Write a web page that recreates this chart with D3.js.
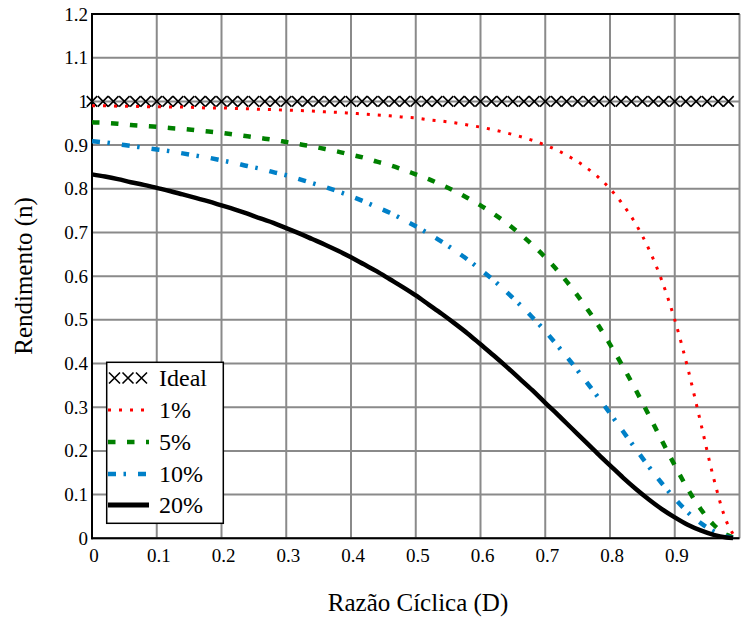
<!DOCTYPE html>
<html>
<head>
<meta charset="utf-8">
<script src="https://cdn.jsdelivr.net/npm/d3@7"></script>
</head>
<body style="margin:0">
<script>
// ---- Data ----
const xTicks = [0, 0.1, 0.2, 0.3, 0.4, 0.5, 0.6, 0.7, 0.8, 0.9];
const xTickLabels = ["0", "0.1", "0.2", "0.3", "0.4", "0.5", "0.6", "0.7", "0.8", "0.9"];
const yTicks = [0, 0.1, 0.2, 0.3, 0.4, 0.5, 0.6, 0.7, 0.8, 0.9, 1.0, 1.1, 1.2];
const yTickLabels = ["0", "0.1", "0.2", "0.3", "0.4", "0.5", "0.6", "0.7", "0.8", "0.9", "1", "1.1", "1.2"];

const D = [0, 0.02, 0.04, 0.06, 0.08, 0.10, 0.12, 0.14, 0.16, 0.18,
           0.20, 0.22, 0.24, 0.26, 0.28, 0.30, 0.32, 0.34, 0.36, 0.38,
           0.40, 0.42, 0.44, 0.46, 0.48, 0.50, 0.52, 0.54, 0.56, 0.58,
           0.60, 0.62, 0.64, 0.66, 0.68, 0.70, 0.72, 0.74, 0.76, 0.78,
           0.80, 0.82, 0.84, 0.86, 0.88, 0.90, 0.92, 0.94, 0.96, 0.98, 0.99];

const eta1 = [0.990, 0.990, 0.989, 0.989, 0.988, 0.988, 0.987, 0.987, 0.986, 0.985,
              0.985, 0.984, 0.983, 0.982, 0.981, 0.980, 0.979, 0.978, 0.976, 0.975,
              0.973, 0.971, 0.969, 0.967, 0.964, 0.962, 0.958, 0.955, 0.951, 0.946,
              0.941, 0.935, 0.928, 0.920, 0.911, 0.900, 0.887, 0.871, 0.852, 0.829,
              0.800, 0.764, 0.719, 0.662, 0.590, 0.500, 0.390, 0.265, 0.138, 0.038, 0.010];

const eta5 = [0.952, 0.951, 0.949, 0.946, 0.944, 0.942, 0.939, 0.937, 0.934, 0.931,
              0.928, 0.924, 0.920, 0.916, 0.912, 0.907, 0.902, 0.897, 0.891, 0.885,
              0.878, 0.871, 0.862, 0.854, 0.844, 0.833, 0.822, 0.809, 0.795, 0.779,
              0.762, 0.743, 0.722, 0.698, 0.672, 0.643, 0.611, 0.575, 0.535, 0.492,
              0.444, 0.393, 0.339, 0.282, 0.224, 0.167, 0.113, 0.067, 0.031, 0.008, 0.002];

const eta10 = [0.909, 0.906, 0.902, 0.898, 0.894, 0.890, 0.886, 0.881, 0.876, 0.871,
               0.865, 0.859, 0.852, 0.846, 0.838, 0.831, 0.822, 0.813, 0.804, 0.794,
               0.783, 0.771, 0.758, 0.745, 0.730, 0.714, 0.697, 0.679, 0.659, 0.638,
               0.615, 0.591, 0.564, 0.536, 0.506, 0.474, 0.439, 0.403, 0.365, 0.326,
               0.286, 0.245, 0.204, 0.164, 0.126, 0.091, 0.060, 0.035, 0.016, 0.004, 0.001];

const eta20 = [0.833, 0.828, 0.822, 0.815, 0.809, 0.802, 0.795, 0.787, 0.779, 0.771,
               0.762, 0.753, 0.743, 0.732, 0.722, 0.710, 0.698, 0.685, 0.672, 0.658,
               0.643, 0.627, 0.611, 0.593, 0.575, 0.556, 0.535, 0.514, 0.492, 0.469,
               0.444, 0.419, 0.393, 0.366, 0.339, 0.310, 0.282, 0.253, 0.224, 0.195,
               0.167, 0.139, 0.113, 0.089, 0.067, 0.048, 0.031, 0.018, 0.008, 0.002, 0.0005];

const idealD = [0, 0.017, 0.033, 0.050, 0.067, 0.083, 0.100, 0.117, 0.133, 0.150,
                0.167, 0.183, 0.200, 0.217, 0.233, 0.250, 0.267, 0.283, 0.300, 0.317,
                0.333, 0.350, 0.367, 0.383, 0.400, 0.417, 0.433, 0.450, 0.467, 0.483,
                0.500, 0.517, 0.533, 0.550, 0.567, 0.583, 0.600, 0.617, 0.633, 0.650,
                0.667, 0.683, 0.700, 0.717, 0.733, 0.750, 0.767, 0.783, 0.800, 0.817,
                0.833, 0.850, 0.867, 0.883, 0.900, 0.917, 0.933, 0.950, 0.967, 0.983];
const idealEta = idealD.map(() => 1);

const seriesNames = ["1%", "5%", "10%", "20%"];
const seriesValues = [eta1, eta5, eta10, eta20];
const seriesColors = ["#ff0000", "#008000", "#0080c8", "#000000"];
const seriesWidths = [3, 4.5, 4.5, 4.5];
const seriesDash = ["3,8", "7.5,11.5", "8,7.5,2.5,12", null];

const xLabel = "Razão Cíclica (D)";
const yLabel = "Rendimento (n)";
const idealName = "Ideal";

// ---- Chart ----
const FONT = "'Liberation Serif', 'Times New Roman', serif";
const W = 741, H = 619;
const svg = d3.select("body").append("svg").attr("width", W).attr("height", H);

const x = d3.scaleLinear().domain([0, 1]).range([92, 739.5]);
const y = d3.scaleLinear().domain([0, 1.2]).range([538.3, 14]);

function txt(sel) {
  return sel.attr("font-family", FONT).style("font-family", FONT, "important").attr("fill", "#000");
}

// grid
const grid = svg.append("g");
grid.selectAll("line.vx").data(xTicks.concat([1])).enter().append("line")
  .attr("x1", d => x(d)).attr("x2", d => x(d))
  .attr("y1", y(0)).attr("y2", y(1.2))
  .attr("stroke", "#8a8a8a").attr("stroke-width", 2);
grid.selectAll("line.hy").data(yTicks).enter().append("line")
  .attr("x1", x(0)).attr("x2", x(1))
  .attr("y1", d => y(d)).attr("y2", d => y(d))
  .attr("stroke", "#8a8a8a").attr("stroke-width", 2);

// axes frame (left, bottom, top in black)
svg.append("line").attr("x1", x(0)).attr("x2", x(0)).attr("y1", y(0) + 1).attr("y2", y(1.2) - 1)
  .attr("stroke", "#000").attr("stroke-width", 2);
svg.append("line").attr("x1", x(0) - 1).attr("x2", x(1)).attr("y1", y(0)).attr("y2", y(0))
  .attr("stroke", "#000").attr("stroke-width", 2);
svg.append("line").attr("x1", x(0) - 1).attr("x2", x(1)).attr("y1", y(1.2)).attr("y2", y(1.2))
  .attr("stroke", "#000").attr("stroke-width", 2);

// tick labels
txt(svg.append("g").selectAll("text").data(yTicks).enter().append("text"))
  .attr("x", x(0) - 4).attr("y", d => y(d) + 6.5)
  .attr("text-anchor", "end").style("font-size", "19px")
  .text((d, i) => yTickLabels[i]);
txt(svg.append("g").selectAll("text").data(xTicks).enter().append("text"))
  .attr("x", d => x(d) + 2).attr("y", 562)
  .attr("text-anchor", "middle").style("font-size", "19px")
  .text((d, i) => xTickLabels[i]);

// axis titles
txt(svg.append("text")).attr("x", 418).attr("y", 611)
  .attr("text-anchor", "middle").style("font-size", "25px").text(xLabel);
txt(svg.append("text")).attr("transform", "translate(32,276) rotate(-90)")
  .attr("text-anchor", "middle").style("font-size", "25px").text(yLabel);

// ideal markers
const plot = svg.append("g");
const cross = (g, cx, cy, s) => {
  g.append("path")
    .attr("d", `M${cx - s},${cy - s}L${cx + s},${cy + s}M${cx - s},${cy + s}L${cx + s},${cy - s}`)
    .attr("stroke", "#000").attr("stroke-width", 1.6).attr("fill", "none");
};
idealD.forEach((d, i) => cross(plot, x(d), y(idealEta[i]), 5.2));

// curves
const line = d3.line().x((d, i) => x(D[i])).y(d => y(d)).curve(d3.curveMonotoneX);
seriesValues.forEach((vals, k) => {
  const p = plot.append("path").datum(vals)
    .attr("d", line)
    .attr("fill", "none")
    .attr("stroke", seriesColors[k])
    .attr("stroke-width", seriesWidths[k])
    .attr("stroke-linejoin", "round");
  if (seriesDash[k]) p.attr("stroke-dasharray", seriesDash[k]);
});

// legend
const lg = svg.append("g");
lg.append("rect").attr("x", 106.7).attr("y", 362.3).attr("width", 116.6).attr("height", 161)
  .attr("fill", "#fff").attr("stroke", "#000").attr("stroke-width", 1.5);
const rowBase = [386, 418, 450, 482, 513];
[0, 1, 2].forEach(j => cross(lg, 114.5 + j * 13.5, 378, 5.5));
txt(lg.append("text")).attr("x", 159).attr("y", rowBase[0]).style("font-size", "24px").text(idealName);
seriesNames.forEach((nm, k) => {
  const yy = rowBase[k + 1] - 8;
  const l = lg.append("line").attr("x1", 108).attr("x2", 149).attr("y1", yy).attr("y2", yy)
    .attr("stroke", seriesColors[k]).attr("stroke-width", seriesWidths[k] + (k === 3 ? 0.5 : 0));
  if (seriesDash[k]) l.attr("stroke-dasharray", seriesDash[k]);
  txt(lg.append("text")).attr("x", 159).attr("y", rowBase[k + 1]).style("font-size", "24px").text(nm);
});
</script>
</body>
</html>
